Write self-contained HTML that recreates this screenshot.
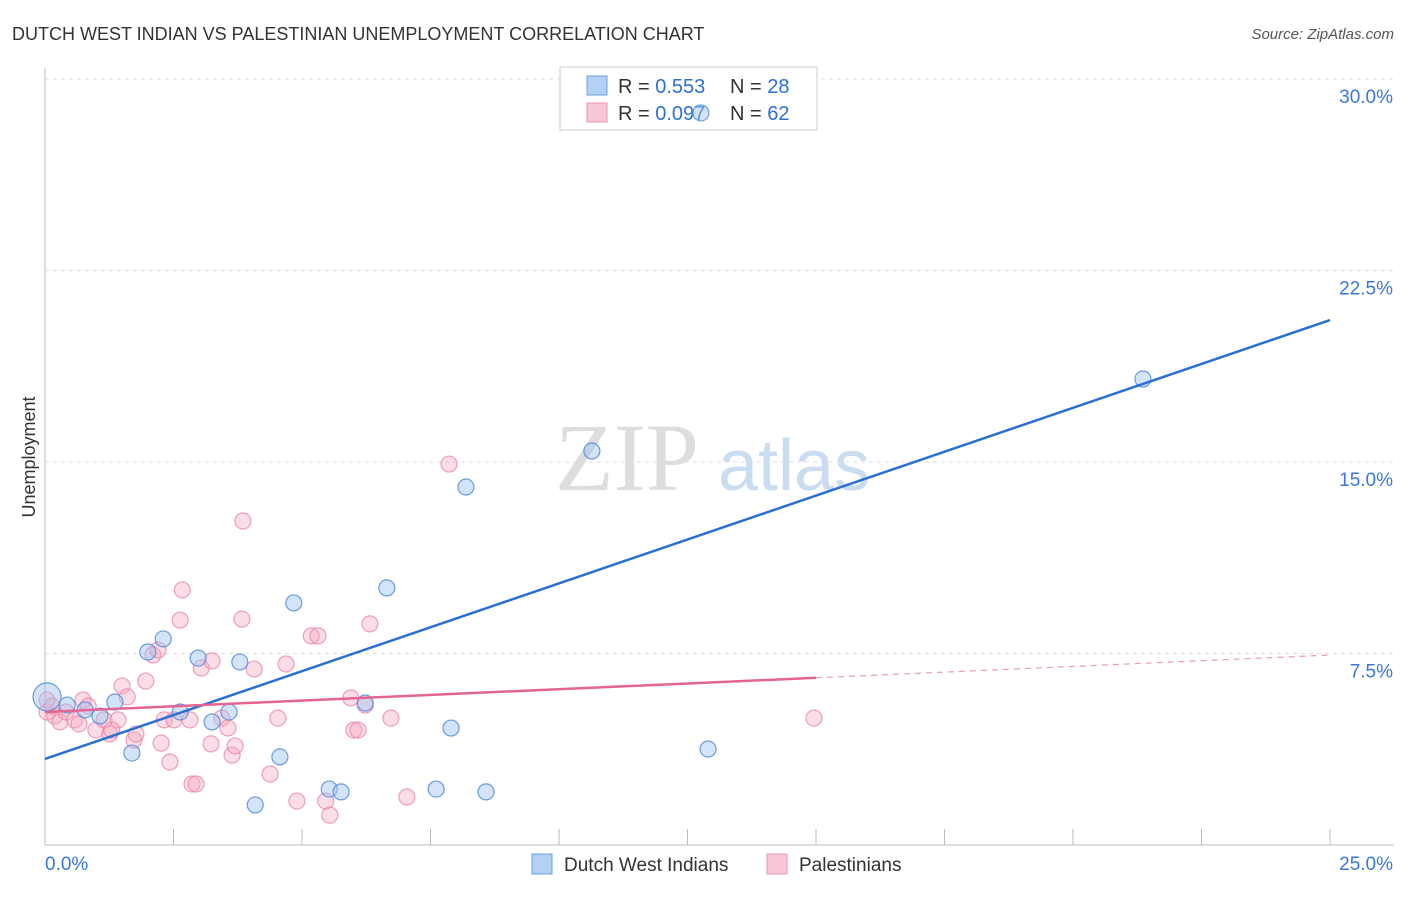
<!DOCTYPE html>
<html><head><meta charset="utf-8"><style>
body{margin:0;background:#fff;font-family:"Liberation Sans",sans-serif;}
svg text{font-family:"Liberation Sans",sans-serif;}
</style></head><body>
<svg id="c" width="1406" height="892">
<text x="12" y="40" font-size="18" fill="#333">DUTCH WEST INDIAN VS PALESTINIAN UNEMPLOYMENT CORRELATION CHART</text>
<text x="1394" y="39" font-size="15" fill="#555" font-style="italic" text-anchor="end">Source: ZipAtlas.com</text>
<text x="35" y="457" font-size="18" fill="#333" transform="rotate(-90 35 457)" text-anchor="middle">Unemployment</text>
<g><text x="555" y="490" font-size="96" fill="#ddd" style="font-family:'Liberation Serif',serif">ZIP</text><text x="718" y="490" font-size="72" fill="#c9dcf2">atlas</text></g>
<g id="grid"></g>
<g>
<rect x="560" y="67" width="257" height="63" fill="#fff" stroke="#ccc"/>
<rect x="587" y="76" width="20" height="19" fill="#b3d1f5" stroke="#6a9fe0"/>
<rect x="587" y="103" width="20" height="19" fill="#f9c6d5" stroke="#ec94b0"/>
<text x="618" y="93" font-size="20" fill="#333">R = <tspan fill="#2d6fd6">0.553</tspan></text>
<text x="730" y="93" font-size="20" fill="#333">N = <tspan fill="#2d6fd6">28</tspan></text>
<text x="618" y="120" font-size="20" fill="#333">R = <tspan fill="#2d6fd6">0.097</tspan></text>
<text x="730" y="120" font-size="20" fill="#333">N = <tspan fill="#2d6fd6">62</tspan></text>
</g>
<g id="marks"></g>
<g>
<rect x="532" y="854" width="20" height="20" fill="#b3d1f5" stroke="#6a9fe0"/>
<text x="564" y="871" font-size="19" fill="#333">Dutch West Indians</text>
<rect x="767" y="854" width="20" height="20" fill="#f9c6d5" stroke="#ec94b0"/>
<text x="799" y="871" font-size="19" fill="#333">Palestinians</text>
</g>
</svg>
<script>
const xTicks=[0,2.5,5,7.5,10,12.5,15,17.5,20,22.5,25];
const yTicks=[7.5,15,22.5,30];
const yTickLabels=["7.5%","15.0%","22.5%","30.0%"];
const blueX=[0.04,0.43,0.78,1.07,1.36,2.30,2.00,1.69,2.63,2.98,3.25,3.58,3.79,4.57,4.84,4.09,5.53,5.76,6.23,6.65,7.61,7.90,8.58,8.19,10.64,12.90,21.36,12.76];
const blueY=[5.80,5.48,5.29,5.05,5.60,8.07,7.56,3.60,5.21,7.32,4.82,5.21,7.17,3.45,9.48,1.57,2.19,2.08,5.56,10.07,2.19,4.58,2.08,14.02,15.43,3.76,18.25,28.67];
const pinkX=[0.04,0.19,0.29,0.41,0.58,0.66,0.74,0.84,0.99,1.15,1.26,1.42,1.50,1.60,1.30,1.73,1.77,1.96,2.10,2.20,2.26,2.32,2.43,2.51,2.63,2.67,2.82,2.86,2.94,3.04,3.25,3.23,3.44,3.56,3.64,3.70,3.83,3.85,4.07,4.38,4.53,4.69,4.90,5.18,5.31,5.46,5.54,5.95,6.01,6.09,6.32,6.73,7.04,7.86,6.23,14.96,0.04,0.14];
const pinkY=[5.21,5.05,4.82,5.21,4.90,4.74,5.68,5.44,4.50,4.90,4.35,4.90,6.23,5.80,4.50,4.11,4.35,6.42,7.44,7.64,3.99,4.90,3.25,4.90,8.81,9.99,4.90,2.39,2.39,6.93,7.21,3.96,4.97,4.58,3.52,3.88,8.85,12.69,6.89,2.78,4.97,7.09,1.72,8.19,8.19,1.72,1.17,5.76,4.50,4.50,8.66,4.97,1.88,14.92,5.48,4.97,5.68,5.44];
const blueTrend=[3.37,20.56];
const pinkTrend=[5.21,7.44];
const pinkSolidEnd=15;
const X0=45,X1=1330,Y0=845,Y1=79;
const sx=v=>X0+(v/25)*(X1-X0);
const sy=v=>Y0-(v/30)*(Y0-Y1);
const NS="http://www.w3.org/2000/svg";
function mk(t,a,p){const e=document.createElementNS(NS,t);for(const k in a)e.setAttribute(k,a[k]);p.appendChild(e);return e;}
const g=document.getElementById('grid'),m=document.getElementById('marks');
let ax=mk('line',{x1:X0,y1:68,x2:X0,y2:Y0,stroke:'#bbb'},g);


let bx=mk('line',{x1:X0,y1:Y0,x2:1394,y2:Y0,stroke:'#bbb'},g);


yTicks.forEach((v,i)=>{
 let l=mk('line',{x1:X0,x2:1394,y1:sy(v),y2:sy(v),stroke:'#ddd','stroke-dasharray':'4,4'},g);
 
 
 let t=mk('text',{x:1393,y:sy(v)+24,'font-size':19,fill:'#3a78d8','text-anchor':'end'},g);t.textContent=yTickLabels[i];
 
 
});
xTicks.forEach(v=>{
 let l=mk('line',{x1:sx(v),x2:sx(v),y1:829,y2:Y0,stroke:'#bbb'},g);
 
 
});
let t0=mk('text',{x:45,y:870,'font-size':19,fill:'#3a78d8'},g);t0.textContent='0.0%';


let t1=mk('text',{x:1393,y:870,'font-size':19,fill:'#3a78d8','text-anchor':'end'},g);t1.textContent='25.0%';


pinkX.forEach((x,i)=>{
 let c=mk('circle',{cx:sx(x),cy:sy(pinkY[i]),r:8,fill:'rgba(246,170,195,0.4)',stroke:'rgba(232,130,165,0.75)','stroke-width':1.2},m);
 
 
});
blueX.forEach((x,i)=>{
 let c=mk('circle',{cx:sx(x),cy:sy(blueY[i]),r:i==0?14:8,fill:'rgba(160,195,240,0.45)',stroke:'rgba(80,140,220,0.85)','stroke-width':1.2},m);
 
 
});
let bl=mk('line',{x1:sx(0),y1:sy(blueTrend[0]),x2:sx(25),y2:sy(blueTrend[1]),stroke:'#2a6fd6','stroke-width':2.5},m);


const py=v=>pinkTrend[0]+(pinkTrend[1]-pinkTrend[0])*v/25;
let pl=mk('line',{x1:sx(0),y1:sy(py(0)),x2:sx(pinkSolidEnd),y2:sy(py(pinkSolidEnd)),stroke:'#e56592','stroke-width':2.5},m);


let pd=mk('line',{x1:sx(pinkSolidEnd),y1:sy(py(pinkSolidEnd)),x2:sx(25),y2:sy(py(25)),stroke:'#e99ab5','stroke-width':1.2,'stroke-dasharray':'6,5'},m);


</script>
</body></html>
